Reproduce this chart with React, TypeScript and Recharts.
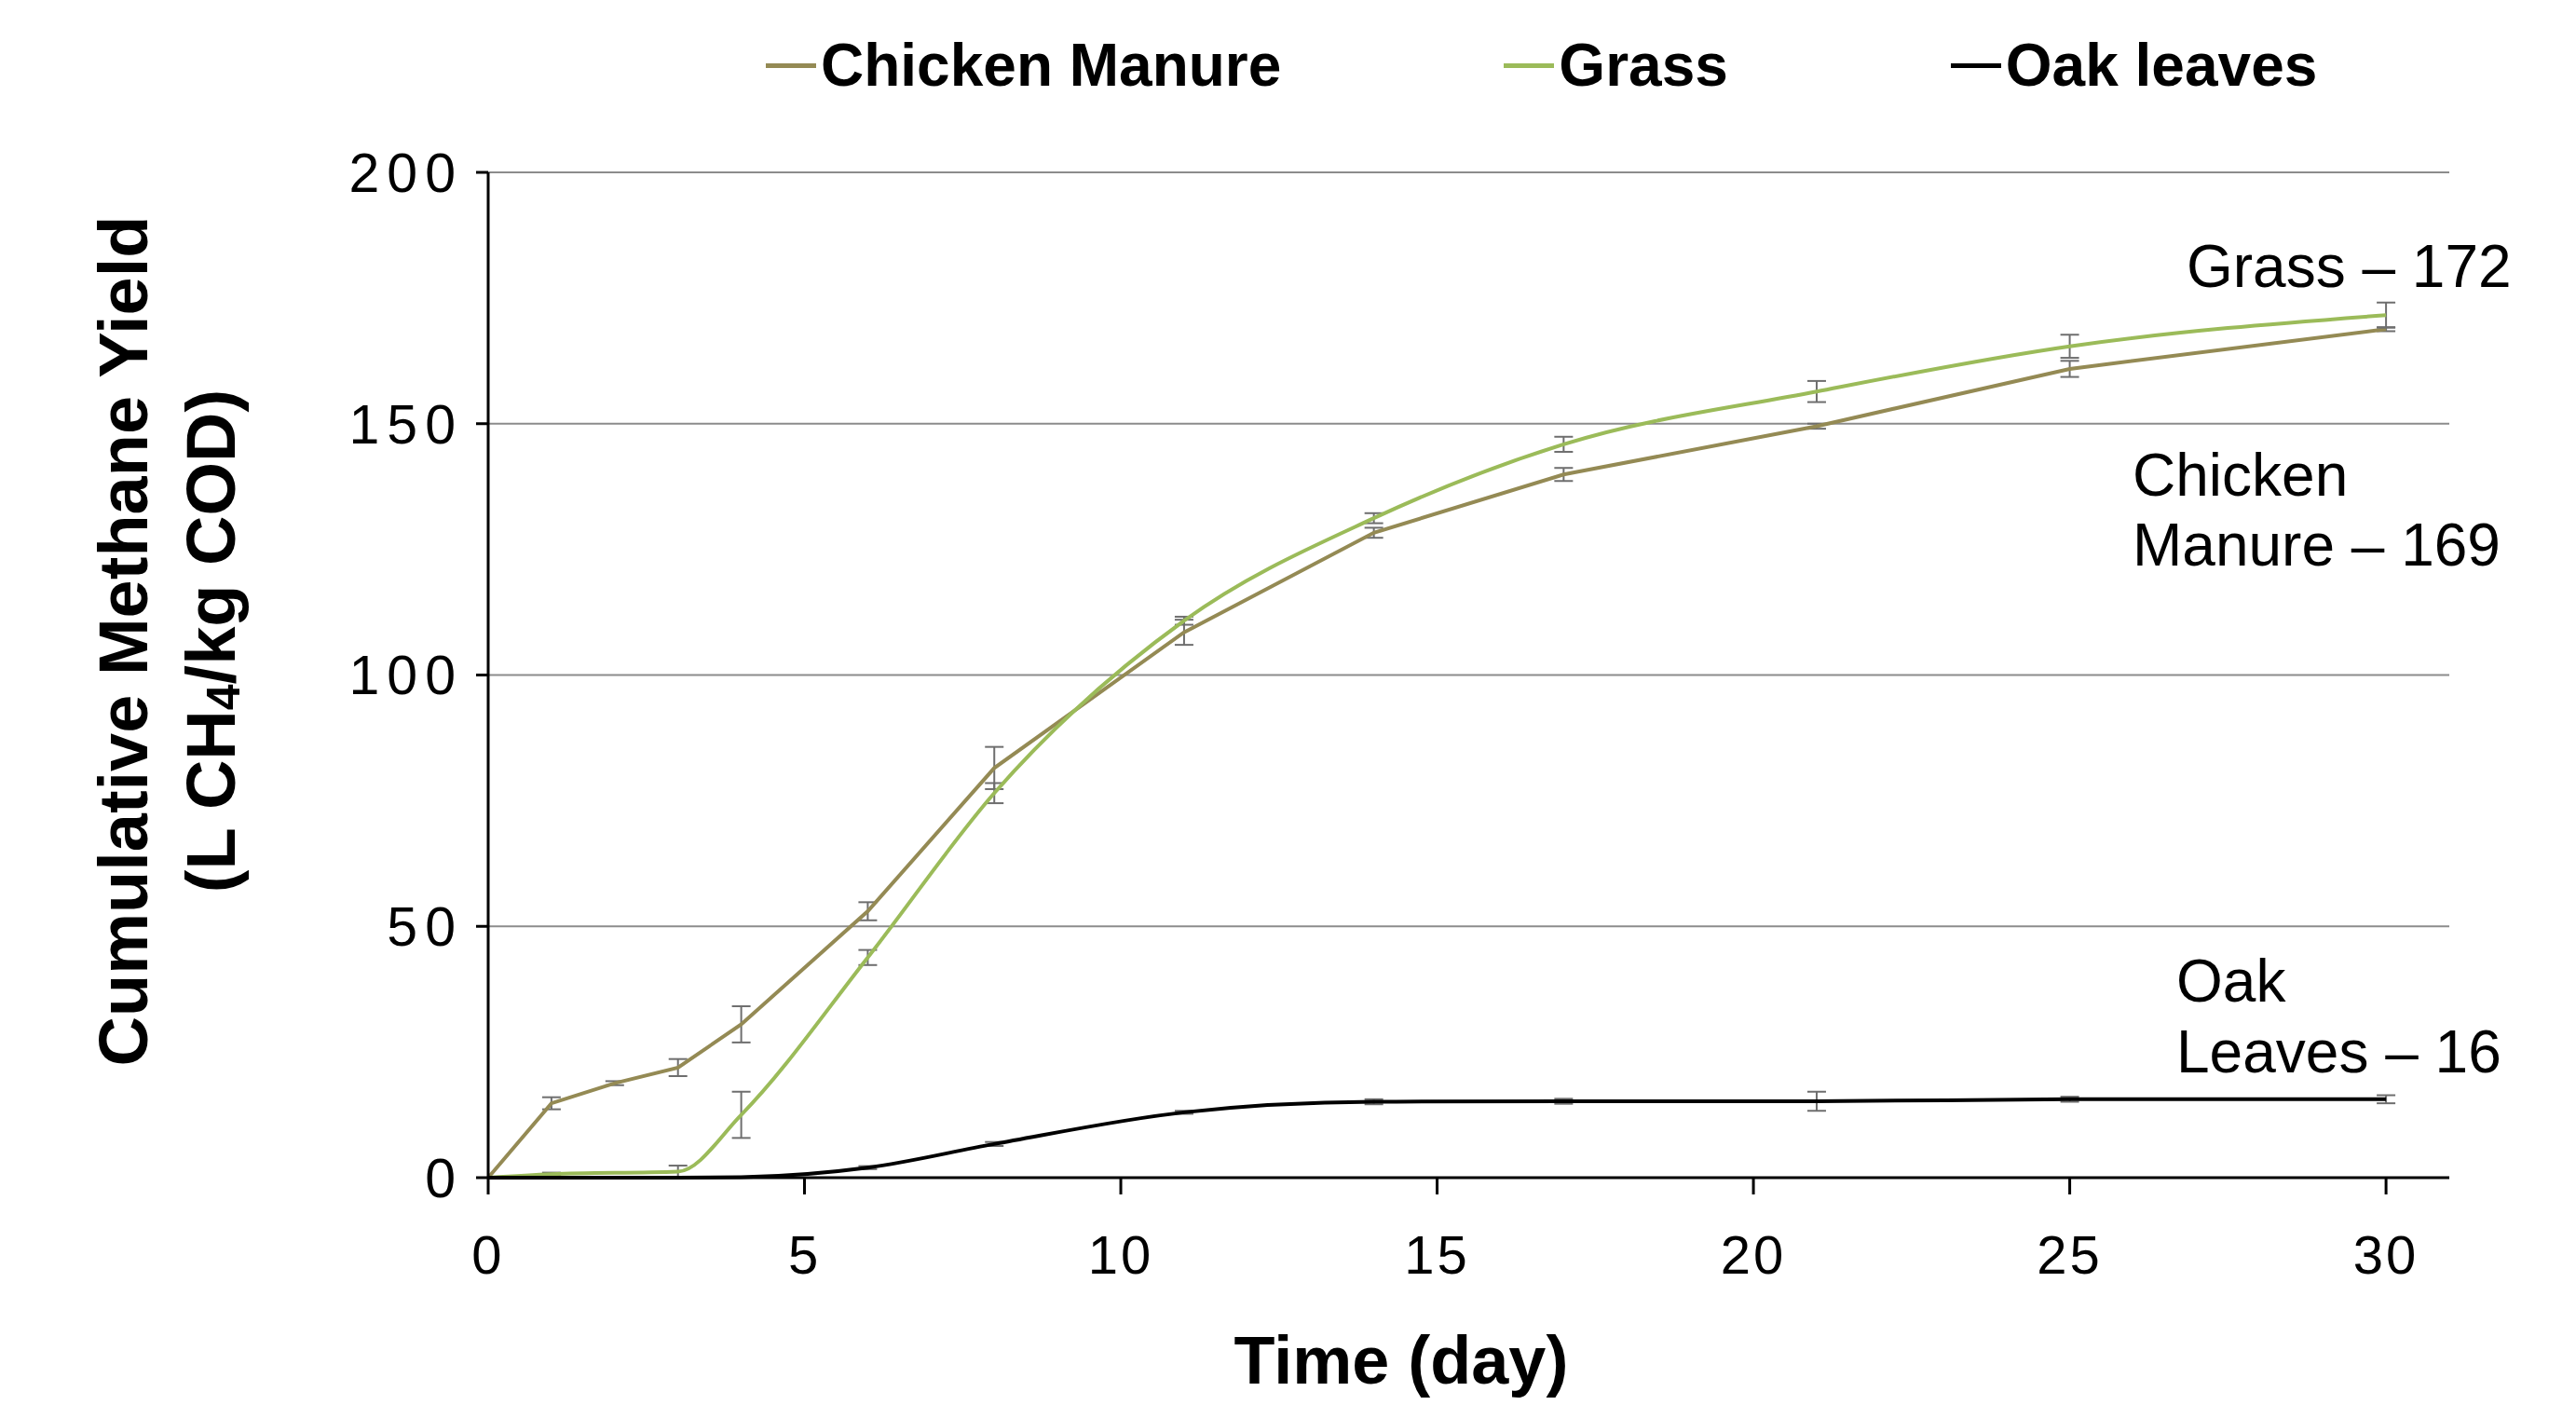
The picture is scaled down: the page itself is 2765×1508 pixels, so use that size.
import React from 'react';
import {
  LineChart,
  Line,
  XAxis,
  YAxis,
  CartesianGrid,
  Legend,
  ErrorBar,
} from 'recharts';

// days sampled for each substrate
const manureDays = [0, 1, 2, 3, 4, 6, 8, 11, 14, 17, 21, 25, 30];
const grassDays = [0, 1, 3, 4, 6, 8, 11, 14, 17, 21, 25, 30];
const oakDays = [0, 1, 2, 3, 4, 6, 8, 11, 14, 17, 21, 25, 30];

// cumulative yield, L CH4 / kg COD
const manureYield = [0, 14.8, 18.8, 21.9, 30.5, 53, 81.5, 108.5, 128.3, 139.9, 149.5, 160.9, 168.8];
const manureErr = [0, 1.2, 0.4, 1.7, 3.6, 1.8, 4.2, 2.5, 1, 1.3, 0.5, 1.6, 0.4];

const grassYield = [0, 0.7, 1.2, 12.5, 43.8, 76.5, 110.8, 131.2, 145.9, 156.4, 165.4, 171.6];
const grassErr = [0, 0.3, 1.2, 4.6, 1.5, 2, 0.8, 1, 1.5, 2.1, 2.3, 2.5];

const oakYield = [0, 0, 0, 0, 0.1, 2, 6.7, 13, 15.1, 15.2, 15.2, 15.6, 15.6];
const oakErr = [0, 0, 0, 0, 0, 0.3, 0.4, 0.3, 0.5, 0.5, 1.9, 0.5, 0.8];

const xTicks = [0, 5, 10, 15, 20, 25, 30];
const yTicks = [0, 50, 100, 150, 200];

const toPoints = (days: number[], vals: number[], errs: number[]) =>
  days.map((d, i) => ({ day: d, value: vals[i], err: errs[i] }));

const manureData = toPoints(manureDays, manureYield, manureErr);
const grassData = toPoints(grassDays, grassYield, grassErr);
const oakData = toPoints(oakDays, oakYield, oakErr);

const W = 2740;
const H = 1498;
const FONT = "'Liberation Sans', Arial, Helvetica, sans-serif";
const ERR_COLOR = '#6e6e6e';

const renderLegend = (props: any) => {
  const items = props.payload || [];
  return (
    <div style={{ display: 'flex', gap: 239, height: 70, alignItems: 'center', fontFamily: FONT }}>
      {items.map((it: any) => (
        <div key={it.value} style={{ display: 'flex', alignItems: 'center' }}>
          <div style={{ width: 54, height: 5, background: it.color, marginRight: 5 }} />
          <span style={{ fontSize: 64, fontWeight: 'bold', color: '#000', lineHeight: 1 }}>{it.value}</span>
        </div>
      ))}
    </div>
  );
};

export default function App() {
  return (
    <div style={{ position: 'relative', width: W, height: H, background: '#fff' }}>
      <LineChart
        width={W}
        height={H}
        margin={{ top: 107, right: 119, left: 0, bottom: 142 }}
      >
        <CartesianGrid vertical={false} stroke="#8c8c8c" strokeWidth={2} />
        <XAxis
          type="number"
          dataKey="day"
          domain={[0, 31]}
          ticks={xTicks}
          allowDataOverflow
          height={100}
          stroke="#000"
          strokeWidth={3}
          tickSize={18}
          tickMargin={44}
          tick={{ fill: '#000', fontSize: 58, fontFamily: FONT, letterSpacing: 3 }}
        />
        <YAxis
          type="number"
          domain={[0, 200]}
          ticks={yTicks}
          width={516}
          stroke="#000"
          strokeWidth={3}
          tickSize={13}
          tickMargin={14}
          tick={{ fill: '#000', fontSize: 59, fontFamily: FONT, letterSpacing: 8 }}
        />
        <Legend
          verticalAlign="top"
          content={renderLegend}
          wrapperStyle={{ top: 27, left: 814, width: 'auto' }}
        />
        <Line
          name="Chicken Manure"
          data={manureData}
          dataKey="value"
          type="linear"
          stroke="#948a54"
          strokeWidth={4}
          dot={false}
          isAnimationActive={false}
        >
          <ErrorBar dataKey="err" direction="y" width={10} strokeWidth={2} stroke={ERR_COLOR} />
        </Line>
        <Line
          name="Grass"
          data={grassData}
          dataKey="value"
          type="monotone"
          stroke="#9bbb59"
          strokeWidth={4}
          dot={false}
          isAnimationActive={false}
        >
          <ErrorBar dataKey="err" direction="y" width={10} strokeWidth={2} stroke={ERR_COLOR} />
        </Line>
        <Line
          name="Oak leaves"
          data={oakData}
          dataKey="value"
          type="monotone"
          stroke="#000"
          strokeWidth={4}
          dot={false}
          isAnimationActive={false}
        >
          <ErrorBar dataKey="err" direction="y" width={10} strokeWidth={2} stroke={ERR_COLOR} />
        </Line>
      </LineChart>

      <svg
        width={W}
        height={H}
        style={{ position: 'absolute', left: 0, top: 0, pointerEvents: 'none' }}
        fontFamily={FONT}
      >
        <text
          transform="translate(124,680) rotate(-90)"
          textAnchor="middle"
          dominantBaseline="central"
          fontSize={74}
          fontWeight="bold"
        >
          Cumulative Methane Yield
        </text>
        <text
          transform="translate(218,680) rotate(-90)"
          textAnchor="middle"
          dominantBaseline="central"
          fontSize={74}
          fontWeight="bold"
        >
          (L CH<tspan dy={14} fontSize={50}>4</tspan>
          <tspan dy={-14}>/kg COD)</tspan>
        </text>
        <text x={1496} y={1452} textAnchor="middle" dominantBaseline="central" fontSize={72} fontWeight="bold">
          Time (day)
        </text>
        <g fontSize={64}>
          <text x={2339} y={278} dominantBaseline="central">Grass – 172</text>
          <text x={2281} y={502} dominantBaseline="central">Chicken</text>
          <text x={2281} y={577} dominantBaseline="central">Manure – 169</text>
          <text x={2328} y={1045} dominantBaseline="central">Oak</text>
          <text x={2328} y={1121} dominantBaseline="central">Leaves – 16</text>
        </g>
      </svg>
    </div>
  );
}
